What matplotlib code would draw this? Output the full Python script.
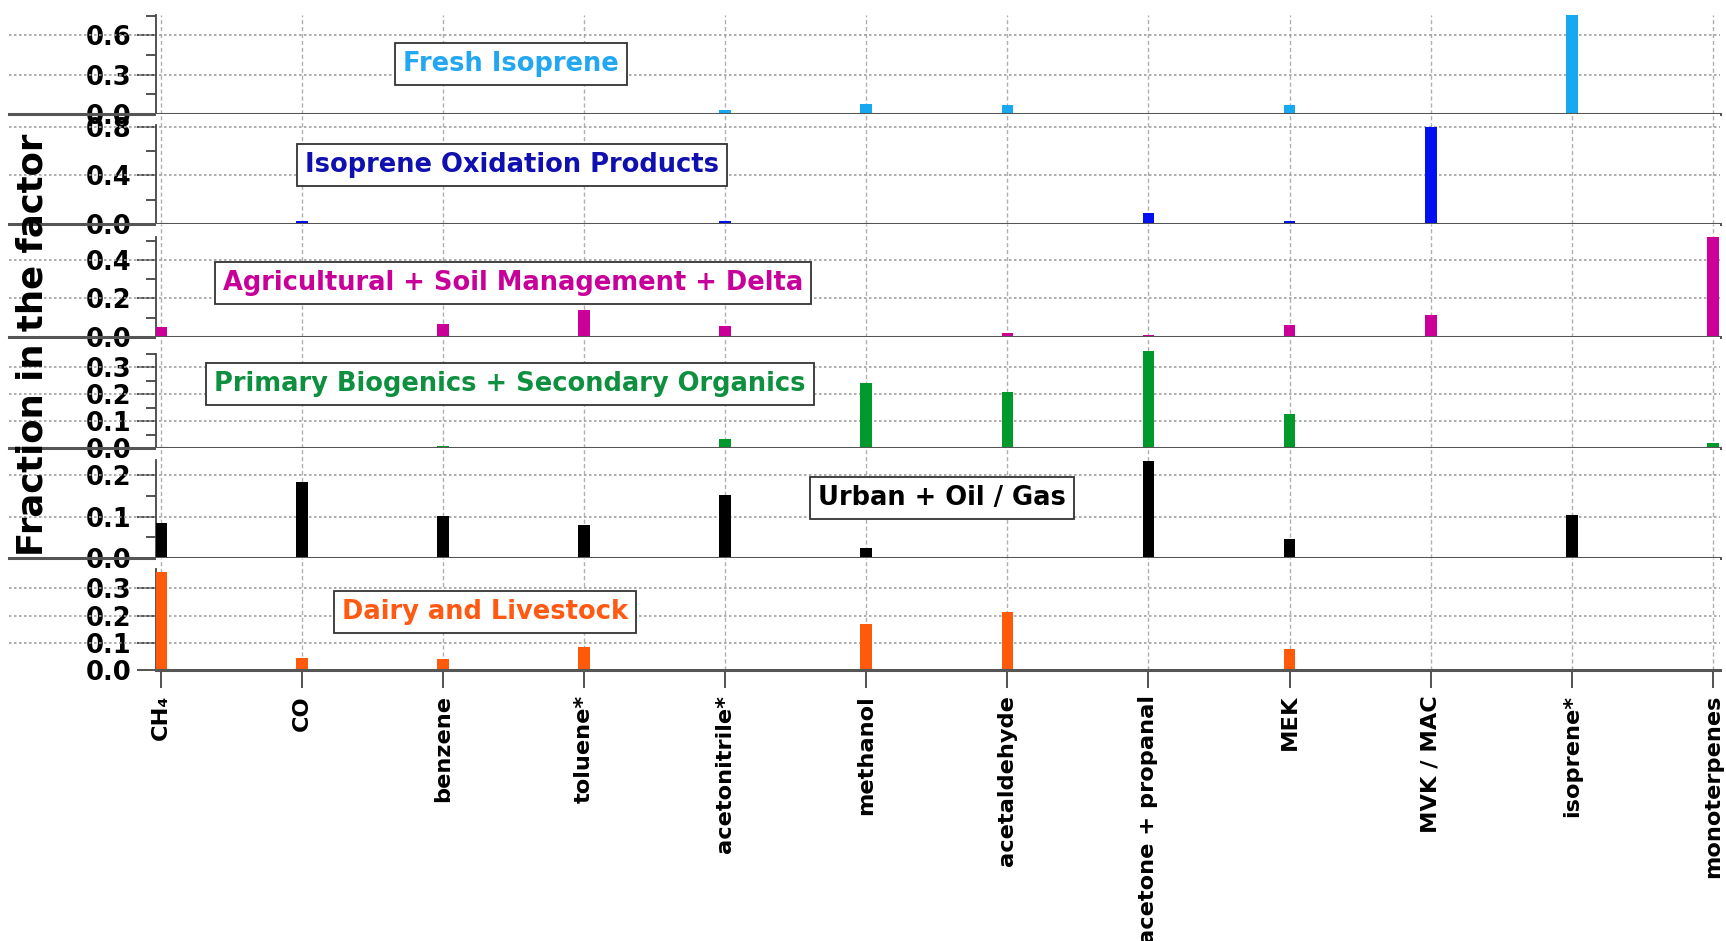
import numpy as np
import matplotlib.pyplot as plt

plt.rcParams['font.family'] = ['DejaVu Sans']
plt.rcParams['font.weight'] = 'bold'

# species on the x axis
species = ["CH₄", "CO", "benzene", "toluene*", "acetonitrile*", "methanol",
           "acetaldehyde", "acetone + propanal", "MEK", "MVK / MAC",
           "isoprene*", "monoterpenes"]

# fraction of each species in the factor
fresh_isoprene = [0.004, 0.003, 0.003, 0.004, 0.03, 0.076, 0.069, 0.003, 0.069, 0.004, 0.76, 0.003]
isoprene_oxidation = [0.003, 0.027, 0.003, 0.01, 0.027, 0.003, 0.008, 0.093, 0.027, 0.80, 0.003, 0.003]
agricultural = [0.052, 0.003, 0.066, 0.139, 0.056, 0.005, 0.02, 0.008, 0.063, 0.114, 0.003, 0.52]
primary_biogenic = [0.003, 0.003, 0.01, 0.003, 0.034, 0.24, 0.21, 0.36, 0.127, 0.002, 0.002, 0.02]
urban = [0.085, 0.184, 0.101, 0.08, 0.152, 0.024, 0.0, 0.234, 0.046, 0.0, 0.104, 0.0]
dairy = [0.361, 0.045, 0.04, 0.086, 0.003, 0.168, 0.212, 0.003, 0.078, 0.003, 0.003, 0.003]

factor_names = ["Fresh Isoprene", "Isoprene Oxidation Products",
                "Agricultural + Soil Management + Delta",
                "Primary Biogenics + Secondary Organics",
                "Urban + Oil / Gas", "Dairy and Livestock"]
factors = [fresh_isoprene, isoprene_oxidation, agricultural,
           primary_biogenic, urban, dairy]

bar_colors = ["#18a8f0", "#0010f0", "#cc0099", "#00992b", "#000000", "#ff5a0a"]
text_colors = ["#22a7f0", "#1010b0", "#c8009a", "#0f9040", "#000000", "#ff5a14"]

# layout (pixels)
W, H = 1726, 941
left, right = 156, 1720
edges = [15, 114, 224, 336.7, 448.3, 558.3, 670]
ytops = [0.755, 0.904, 0.589, 0.413, 0.264, 0.411]
spine_tops = [0.755, 0.81, 0.52, 0.35, 0.236, 0.37]
majors = [[0, 0.3, 0.6], [0, 0.4, 0.8], [0, 0.2, 0.4],
          [0, 0.1, 0.2, 0.3], [0, 0.1, 0.2], [0, 0.1, 0.2, 0.3]]
minors = [[0.15, 0.45, 0.75], [0.2, 0.6], [0.1, 0.3, 0.5],
          [0.05, 0.15, 0.25, 0.35], [0.05, 0.15], []]
label_pos = [(511, 64), (512, 165), (513, 283), (510, 384), (942, 498), (485, 612)]

fig = plt.figure(figsize=(W / 100, H / 100), dpi=100)
x = np.arange(len(species))
ext = (9 - left) / (right - left)

for i in range(6):
    top, bot = edges[i], edges[i + 1]
    ax = fig.add_axes([left / W, 1 - bot / H, (right - left) / W, (bot - top) / H])
    ax.bar(x, factors[i], width=0.083, color=bar_colors[i], zorder=3)
    ax.set_xlim(-0.033, 11.05)
    ax.set_ylim(0, ytops[i])

    # vertical dashed grid
    ax.set_xticks(x)
    ax.grid(axis='x', color='#b0b0b0', ls=(0, (3, 2)), lw=1)
    ax.set_axisbelow(True)

    # horizontal dotted grid, extending under the tick labels
    ytr = ax.get_yaxis_transform()
    for v in majors[i][1:]:
        ax.plot([ext, 1], [v, v], transform=ytr, ls=(0, (1.5, 1.5)),
                color='#a0a0a0', lw=1.2, clip_on=False, zorder=1)
    ax.plot([ext if i < 5 else 0, 1], [0, 0], transform=ytr, color='#555555',
            lw=2.2, clip_on=False, zorder=4)

    ax.set_yticks(majors[i])
    ax.set_yticks(minors[i], minor=True)
    ax.set_yticklabels([f"{v:.1f}" for v in majors[i]])
    ax.tick_params(axis='y', which='major', length=13.7, width=1.3,
                   color='#444444', pad=4, labelsize=18.5)
    ax.tick_params(axis='y', which='minor', length=7.2, width=1.3, color='#444444')

    for s in ['top', 'right', 'bottom']:
        ax.spines[s].set_visible(False)
    ax.spines['left'].set_bounds(0, spine_tops[i])
    ax.spines['left'].set_color('#444444')
    ax.spines['left'].set_linewidth(1.3)

    if i < 5:
        ax.tick_params(axis='x', bottom=False, labelbottom=False)
    else:
        ax.tick_params(axis='x', length=13, width=1.3, color='#444444', pad=5)
        ax.set_xticklabels(species, rotation=90, va='top', ha='center',
                           fontsize=16.2, fontweight='bold')

    cx, cy = label_pos[i]
    fig.text(cx / W, 1 - cy / H, factor_names[i], color=text_colors[i],
             fontsize=18.5, fontweight='bold', ha='center', va='center',
             bbox=dict(boxstyle='square,pad=0.32', fc='white', ec='#333333', lw=1.3))

fig.text(33 / W, 1 - 345 / H, "Fraction in the factor", rotation=90,
         fontsize=25.5, fontweight='bold', ha='center', va='center')

fig.savefig('out.png', dpi=100)
